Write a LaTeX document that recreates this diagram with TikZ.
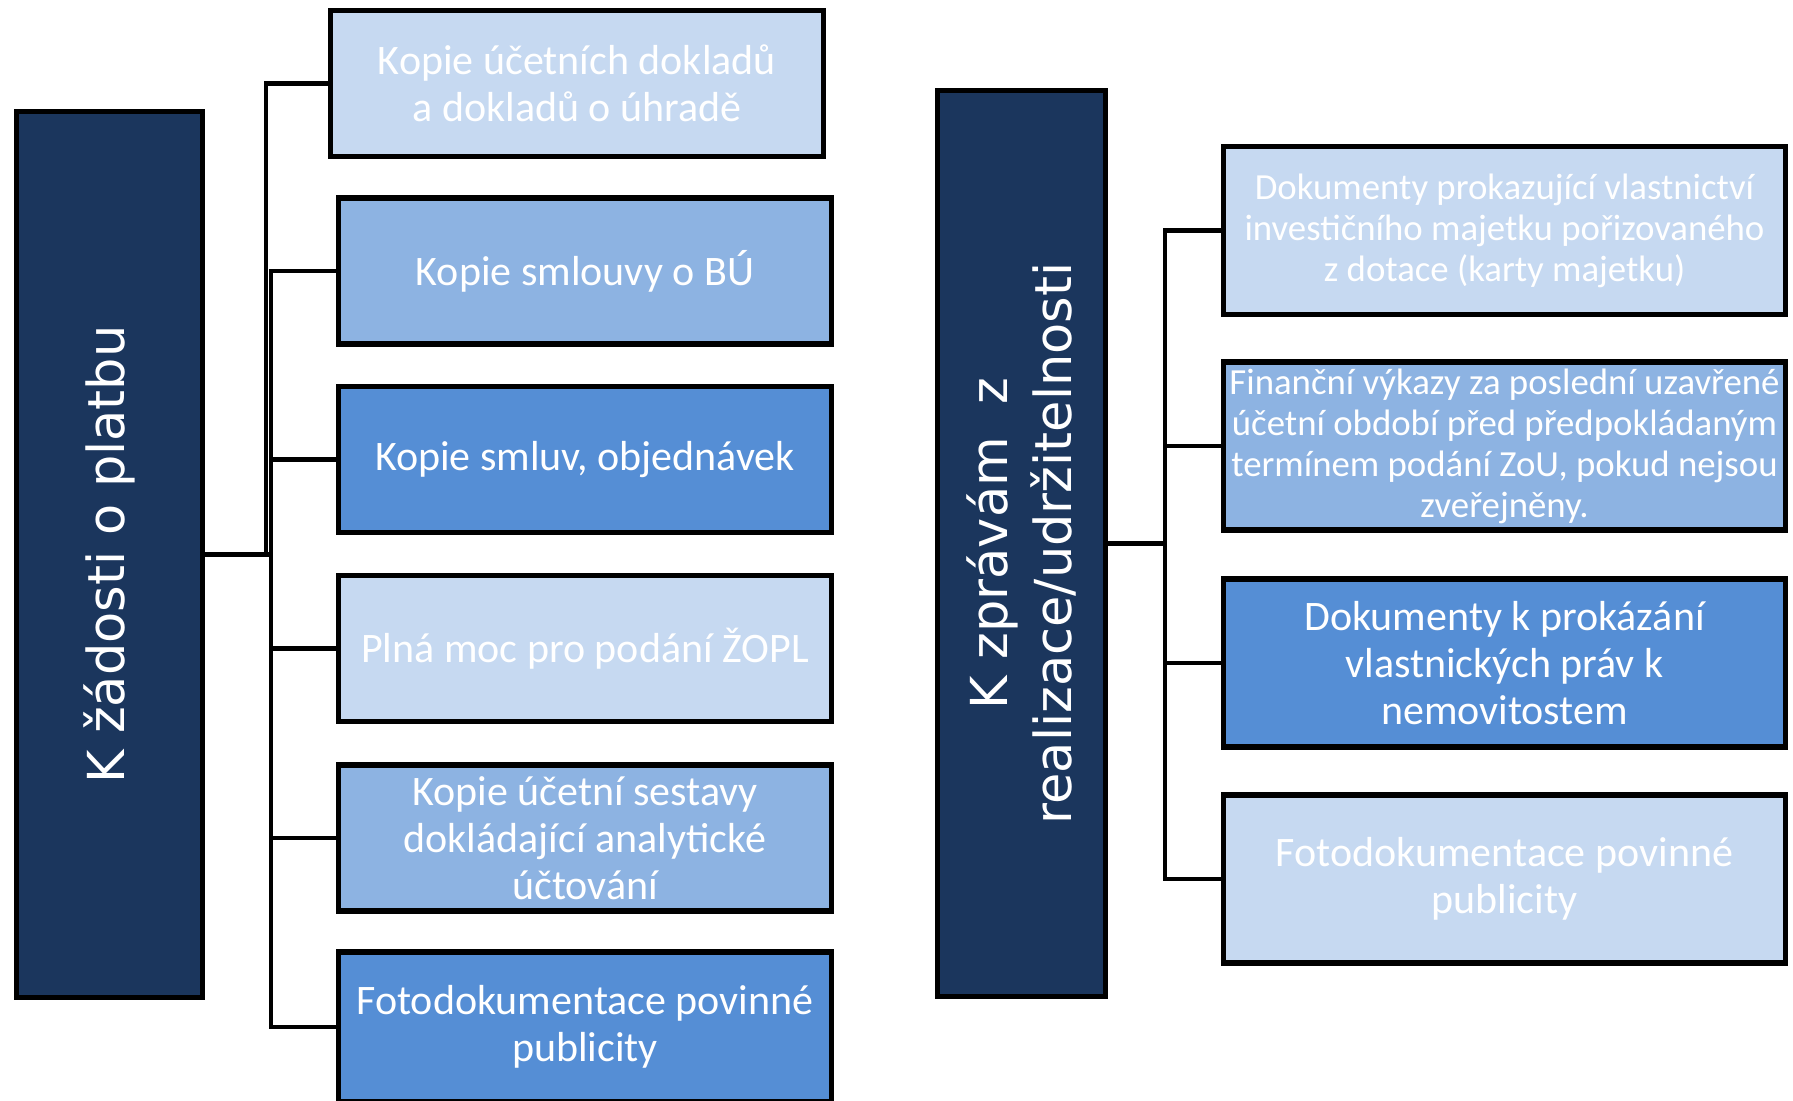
\documentclass[tikz,border=0pt]{standalone}
\usepackage{fontspec}
\setmainfont{Carlito}
\newfontfamily\rootfont{DejaVu Sans}
\usetikzlibrary{positioning}
\definecolor{navyroot}{RGB}{27, 54, 93}
\definecolor{paleblue}{RGB}{198, 217, 241}
\definecolor{midblue}{RGB}{141, 179, 226}
\definecolor{deepblue}{RGB}{85, 142, 213}

\begin{document}
\begin{tikzpicture}[
    x=0.5pt, y=-0.5pt,
    base/.style={
        draw=black,
        line width=2.8pt,
        rectangle,
        align=center,
        text=white,
        inner sep=1pt,
        outer sep=0pt
    },
    rootbox/.style={
        base,
        fill=navyroot
    },
    roottext/.style={
        rotate=90,
        align=center,
        text=white,
        font=\rootfont\fontsize{25.5}{32}\selectfont
    },
    leftbox/.style={
        base,
        minimum width=246.5pt,
        minimum height=73pt,
        font=\fontsize{21}{23.5}\selectfont
    },
    rightbox/.style={
        base,
        minimum width=281pt,
        minimum height=84pt,
        font=\fontsize{21}{23.5}\selectfont
    },
    smalltext/.style={font=\fontsize{18.4}{20.5}\selectfont},
    link/.style={line width=2.2pt, color=black}
]
    \useasboundingbox (0,0) rectangle (1793,1101);

    % Nodes
    \node[rootbox, minimum width=93pt, minimum height=443pt,
          label={[roottext]center:K žádosti o platbu}] (platba) at (109.5,554.5) {};
    \node[leftbox, fill=paleblue] (kopie_dokladu) at (577,83.5) {Kopie účetních dokladů\\a dokladů o úhradě};
    \node[leftbox, fill=midblue] (smlouva_bu) at (585,271) {Kopie smlouvy o BÚ};
    \node[leftbox, fill=deepblue] (smlouvy) at (585,459.5) {Kopie smluv, objednávek};
    \node[leftbox, fill=paleblue] (plna_moc) at (585,648.5) {Plná moc pro podání ŽOPL};
    \node[leftbox, fill=midblue] (sestava) at (585,838) {Kopie účetní sestavy\\dokládající analytické\\účtování};
    \node[leftbox, fill=deepblue, minimum height=75pt] (foto_platba) at (585,1027) {Fotodokumentace povinné\\publicity};

    \node[rootbox, minimum width=84pt, minimum height=453pt,
          label={[roottext]center:K zprávám\ \ z\\realizace/udržitelnosti}] (zprava) at (1021.5,543.5) {};
    \node[rightbox, fill=paleblue, smalltext] (vlastnictvi) at (1504.5,230.5) {Dokumenty prokazující vlastnictví\\investičního majetku pořizovaného\\z dotace (karty majetku)};
    \node[rightbox, fill=midblue, smalltext] (vykazy) at (1504.5,446) {Finanční výkazy za poslední uzavřené\\účetní období před předpokládaným\\termínem podání ZoU, pokud nejsou\\zveřejněny.};
    \node[rightbox, fill=deepblue] (prava) at (1504.5,663) {Dokumenty k prokázání\\vlastnických práv k\\nemovitostem};
    \node[rightbox, fill=paleblue] (foto_zprava) at (1504.5,879) {Fotodokumentace povinné\\publicity};

    \coordinate (ltrunk) at (266,554.5);
    \coordinate (ltrunkb) at (271,554.5);
    \coordinate (rtrunk) at (1165,543.5);

    % Edges
    \draw[link] (platba.east) -- (ltrunkb);
    \draw[link] (ltrunk) |- (kopie_dokladu.west);
    \foreach \k in {smlouva_bu, smlouvy, plna_moc, sestava, foto_platba}
        \draw[link] (ltrunkb) |- (\k.west);

    \draw[link] (zprava.east) -- (rtrunk);
    \foreach \k in {vlastnictvi, vykazy, prava, foto_zprava}
        \draw[link] (rtrunk) |- (\k.west);

\end{tikzpicture}
\end{document}
